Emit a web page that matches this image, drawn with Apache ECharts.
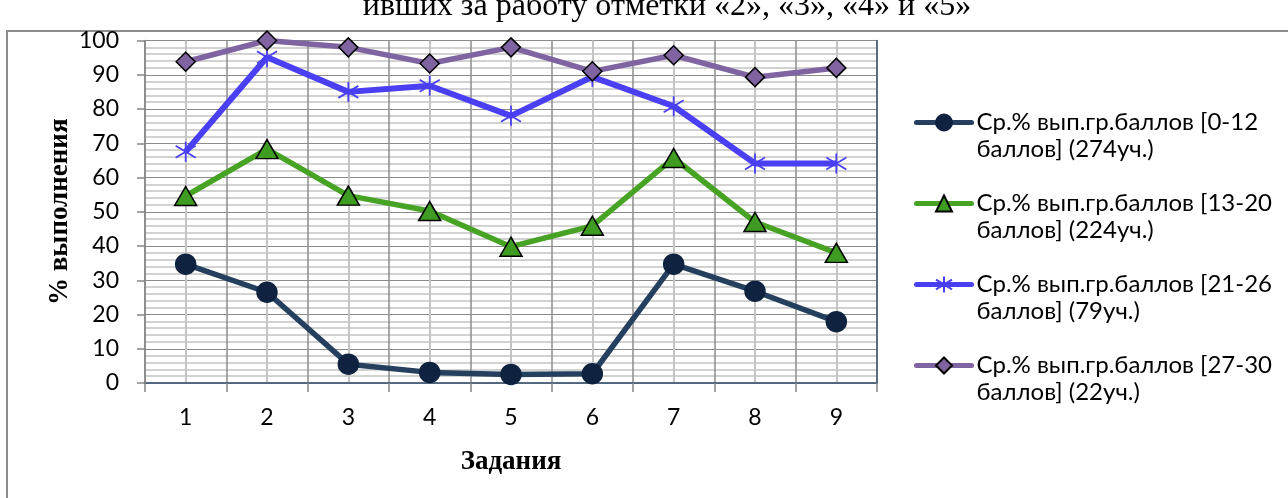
<!DOCTYPE html>
<html>
<head>
<meta charset="utf-8">
<script src="https://cdn.jsdelivr.net/npm/echarts@6/dist/echarts.min.js"></script>
<style>
html,body{margin:0;padding:0;background:#fff;}
#chart{width:1288px;height:498px;}
</style>
</head>
<body>
<div id="chart"></div>
<script>
var categories = ['1','2','3','4','5','6','7','8','9'];
var seriesNames = [
  'Ср.% вып.гр.баллов [0-12\nбаллов] (274уч.)',
  'Ср.% вып.гр.баллов [13-20\nбаллов] (224уч.)',
  'Ср.% вып.гр.баллов [21-26\nбаллов] (79уч.)',
  'Ср.% вып.гр.баллов [27-30\nбаллов] (22уч.)'
];
var group0_12  = [34.7, 26.5, 5.5, 3.1, 2.5, 2.7, 34.7, 26.8, 17.9];
var group13_20 = [54.6, 68.3, 54.7, 50.2, 39.8, 45.9, 65.7, 47.0, 38.0];
var group21_26 = [67.5, 95.1, 85.0, 86.8, 78.0, 89.4, 80.8, 64.1, 64.1];
var group27_30 = [93.8, 100, 98.0, 93.3, 98.0, 91.0, 95.7, 89.3, 92.0];
var yTicks = {min: 0, max: 100, step: 10};
var titleText = 'ивших за работу отметки «2», «3», «4» и «5»';
var yTitle = '% выполнения';
var xTitle = 'Задания';

var chart = echarts.init(document.getElementById('chart'), null, {renderer: 'canvas'});
var sansFont = 'Lato';
var serifFont = '"Liberation Serif", "DejaVu Serif", serif';
var asterisk = 'path://M0,-10 L0,10 M-8,-6 L8,6 M-8,6 L8,-6';

function mk(name, data, color, lw, symbol, size, fill, border) {
  return {
    name: name, type: 'line', data: data, xAxisIndex: 0, yAxisIndex: 0,
    symbol: symbol, symbolSize: size,
    lineStyle: {color: color, width: lw},
    itemStyle: {color: fill, borderColor: border, borderWidth: 1.5},
    emphasis: {disabled: true},
    z: 3
  };
}

var s1 = mk(seriesNames[0], group0_12, '#25405f', 5.5, 'circle', 20, '#0f2340', '#0f2340');
var s2 = mk(seriesNames[1], group13_20, '#47a324', 5.5, 'triangle', [22, 19], '#3f9c22', '#000');
var s3 = mk(seriesNames[2], group21_26, '#4a3ff2', 6, asterisk, [20, 20], '#4a3ff2', '#4a3ff2');
s3.itemStyle.borderWidth = 1.8;
var s4 = mk(seriesNames[3], group27_30, '#8064a2', 5.5, 'diamond', [19, 19], '#8064a2', '#000');

var option = {
  animation: false,
  backgroundColor: '#fff',
  graphic: [
    {type: 'text', x: 667, y: 23, silent: true,
     style: {text: titleText, font: '32px ' + serifFont, fill: '#000', textAlign: 'center', textVerticalAlign: 'bottom'}},
    {type: 'polyline', silent: true,
     shape: {points: [[7, 498], [7, 31], [1288, 31]]},
     style: {stroke: '#8c8c8c', lineWidth: 2, fill: 'none'}}
  ],
  grid: {left: 145, right: 411, top: 40.5, bottom: 115, containLabel: false},
  legend: {
    orient: 'vertical', left: 914, top: 82, padding: 0,
    itemWidth: 55, itemHeight: 20, itemGap: 0,
    formatter: function (n) { return '\n' + n; },
    lineStyle: {width: 5, cap: 'round'},
    textStyle: {fontFamily: sansFont, fontSize: 24, color: '#000', lineHeight: 27},
    selectedMode: false
  },
  xAxis: [
    {
      type: 'category', data: categories, boundaryGap: true, position: 'bottom',
      axisLine: {show: true, lineStyle: {color: '#868686', width: 1.5}},
      axisTick: {show: true, length: 9, lineStyle: {color: '#868686', width: 1.5}},
      axisLabel: {fontFamily: sansFont, fontSize: 23, color: '#000', margin: 23},
      splitLine: {show: false},
      name: xTitle, nameLocation: 'middle', nameGap: 66, nameMoveOverlap: false,
      nameTextStyle: {fontFamily: serifFont, fontSize: 27, fontWeight: 'bold', color: '#000'}
    },
    {
      type: 'value', min: 0, max: 9, interval: 1, position: 'top',
      axisLine: {show: true, lineStyle: {color: '#3f5a7a', width: 1.5}},
      axisTick: {show: false}, axisLabel: {show: false},
      splitLine: {show: true, lineStyle: {color: '#8c8c8c', width: 1.5}},
      minorTick: {show: false, splitNumber: 2},
      minorSplitLine: {show: true, lineStyle: {color: '#c4c4c4', width: 2}}
    }
  ],
  yAxis: [
    {
      type: 'value', min: yTicks.min, max: yTicks.max, interval: yTicks.step, position: 'left',
      axisLine: {show: true, lineStyle: {color: '#868686', width: 1.5}},
      axisTick: {show: true, length: 8, lineStyle: {color: '#868686', width: 1.5}},
      axisLabel: {fontFamily: sansFont, fontSize: 23, color: '#000', margin: 26},
      splitLine: {show: true, lineStyle: {color: '#8c8c8c', width: 1.2}},
      minorTick: {show: false, splitNumber: 5},
      minorSplitLine: {show: true, lineStyle: {color: '#c4c4c4', width: 1.5}},
      name: yTitle, nameLocation: 'middle', nameGap: 71, nameRotate: 90, nameMoveOverlap: false,
      nameTextStyle: {fontFamily: serifFont, fontSize: 27, fontWeight: 'bold', color: '#000'}
    },
    {
      type: 'value', min: yTicks.min, max: yTicks.max, interval: yTicks.step, position: 'right',
      axisLine: {show: true, lineStyle: {color: '#3f5a7a', width: 1.5}},
      axisTick: {show: false}, axisLabel: {show: false}, splitLine: {show: false}
    }
  ],
  series: [s1, s2, s3, s4]
};
chart.setOption(option);
</script>
</body>
</html>
